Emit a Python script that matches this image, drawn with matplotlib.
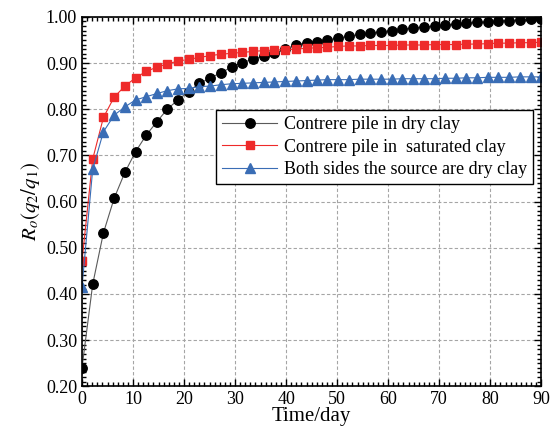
import matplotlib
matplotlib.use("Agg")
import matplotlib.pyplot as plt
from matplotlib.ticker import MultipleLocator

plt.rcParams['font.family'] = ['Liberation Serif', 'DejaVu Serif']
plt.rcParams['mathtext.fontset'] = 'stix'

# time axis (days), 44 samples
days = [0.0, 2.1, 4.2, 6.3, 8.4, 10.5, 12.6, 14.7, 16.7, 18.8, 20.9,
        23.0, 25.1, 27.2, 29.3, 31.4, 33.5, 35.6, 37.7, 39.8, 41.9, 44.0,
        46.0, 48.1, 50.2, 52.3, 54.4, 56.5, 58.6, 60.7, 62.8, 64.9, 67.0,
        69.1, 71.2, 73.3, 75.3, 77.4, 79.5, 81.6, 83.7, 85.8, 87.9, 90.0]

dry_clay = [0.240, 0.421, 0.532, 0.607, 0.663, 0.708, 0.744, 0.773, 0.800,
            0.820, 0.838, 0.856, 0.867, 0.879, 0.891, 0.901, 0.908, 0.916,
            0.921, 0.930, 0.939, 0.944, 0.946, 0.950, 0.954, 0.958, 0.962,
            0.965, 0.968, 0.970, 0.973, 0.976, 0.978, 0.980, 0.982, 0.984,
            0.986, 0.988, 0.989, 0.991, 0.992, 0.993, 0.995, 0.996]

saturated_clay = [0.471, 0.692, 0.782, 0.826, 0.850, 0.868, 0.882, 0.891,
                  0.898, 0.904, 0.908, 0.912, 0.916, 0.919, 0.921, 0.923,
                  0.925, 0.927, 0.928, 0.929, 0.930, 0.932, 0.933, 0.934,
                  0.936, 0.937, 0.937, 0.938, 0.938, 0.938, 0.939, 0.939,
                  0.939, 0.940, 0.940, 0.940, 0.941, 0.941, 0.942, 0.943,
                  0.943, 0.944, 0.944, 0.945]

both_sides = [0.415, 0.670, 0.751, 0.787, 0.805, 0.820, 0.827, 0.834, 0.840,
              0.844, 0.845, 0.849, 0.850, 0.853, 0.855, 0.856, 0.857, 0.858,
              0.859, 0.860, 0.861, 0.862, 0.863, 0.864, 0.864, 0.864, 0.865,
              0.865, 0.865, 0.865, 0.866, 0.866, 0.866, 0.866, 0.867, 0.867,
              0.868, 0.868, 0.869, 0.869, 0.869, 0.870, 0.870, 0.870]

labels = ['Contrere pile in dry clay',
          'Contrere pile in  saturated clay',
          'Both sides the source are dry clay']

fig = plt.figure(figsize=(5.54, 4.32), dpi=100)
ax = fig.add_axes([0.148, 0.106, 0.829, 0.855])

ax.plot(days, dry_clay, color='#5a5a5a', lw=0.8, marker='o', ms=6.8,
        mfc='black', mec='black', label=labels[0])
ax.plot(days, saturated_clay, color='#ee2a2a', lw=0.8, marker='s', ms=5.8,
        mfc='#ee2a2a', mec='#ee2a2a', label=labels[1])
ax.plot(days, both_sides, color='#3a6db5', lw=0.8, marker='^', ms=6.8,
        mfc='#3a6db5', mec='#3a6db5', label=labels[2])

ax.set_xlim(0, 90)
ax.set_ylim(0.2, 1.0)
ax.xaxis.set_major_locator(MultipleLocator(10))
ax.xaxis.set_minor_locator(MultipleLocator(1))
ax.yaxis.set_major_locator(MultipleLocator(0.1))
ax.yaxis.set_minor_locator(MultipleLocator(0.01))
ax.yaxis.set_major_formatter(plt.FormatStrFormatter('%.2f'))

ax.tick_params(which='both', direction='in', top=True, right=True,
               labelsize=13, width=1)
ax.tick_params(which='major', length=5)
ax.tick_params(which='minor', length=3)
for s in ax.spines.values():
    s.set_linewidth(1.2)

ax.grid(which='major', linestyle=(0, (3, 2)), color='#a5a5a5', lw=0.8)
ax.set_axisbelow(True)

ax.set_xlabel('Time/day', fontsize=15, labelpad=-1)
ax.set_ylabel(r'$R_o(q_2/q_1)$', fontsize=15, labelpad=3)

leg = ax.legend(loc='upper left', bbox_to_anchor=(0.292, 0.748),
                borderaxespad=0, fontsize=13, fancybox=False,
                edgecolor='black', framealpha=1, handlelength=3,
                labelspacing=0.3, borderpad=0.35, handletextpad=0.4)
leg.get_frame().set_linewidth(1.0)

fig.savefig('out.png', dpi=100)
